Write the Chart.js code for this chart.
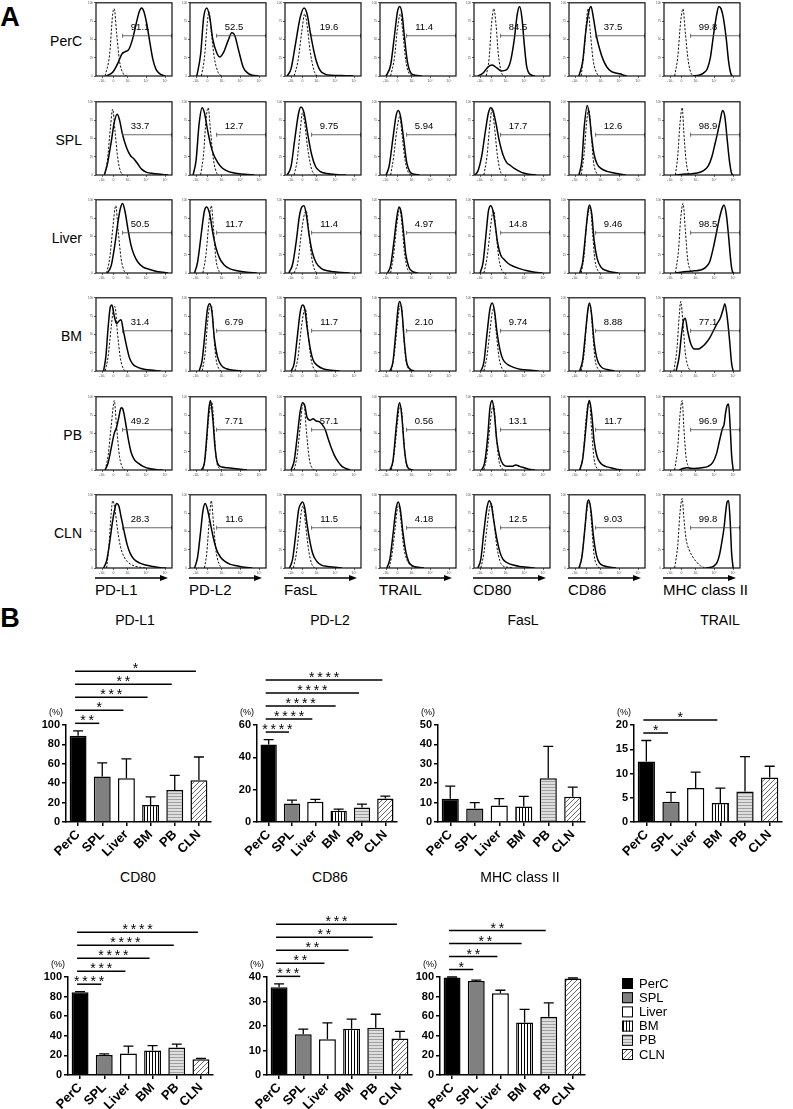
<!DOCTYPE html>
<html>
<head>
<meta charset="utf-8">
<script src="https://cdn.jsdelivr.net/npm/chart.js@4.4.1/dist/chart.umd.min.js"></script>
<style>
body { margin: 0; background: #fff; }
#page { position: relative; width: 793px; height: 1109px; overflow: hidden; background: #fff;
        font-family: Arial, "Liberation Sans", Helvetica, sans-serif; color: #000; }
#page canvas { position: absolute; }
.lbl { position: absolute; white-space: nowrap; line-height: 1; }
</style>
</head>
<body>
<div id="page"></div>
<script>
// ---------- panel A: histogram data (x = channel 0-100, y = % of max) ----------
const tissues = ['PerC', 'SPL', 'Liver', 'BM', 'PB', 'CLN'];
const markers = ['PD-L1', 'PD-L2', 'FasL', 'TRAIL', 'CD80', 'CD86', 'MHC class II'];
const xTickPos = [8, 23, 42, 66, 91];
const xTickText = ['-10³', '0', '10³', '10⁴', '10⁵'];
const gateStart = 35;

const percGate = ['91.1', '52.5', '19.6', '11.4', '84.5', '37.5', '99.8'];
const splGate = ['33.7', '12.7', '9.75', '5.94', '17.7', '12.6', '98.9'];
const liverGate = ['50.5', '11.7', '11.4', '4.97', '14.8', '9.46', '98.5'];
const bmGate = ['31.4', '6.79', '11.7', '2.10', '9.74', '8.88', '77.1'];
const pbGate = ['49.2', '7.71', '57.1', '0.56', '13.1', '11.7', '96.9'];
const clnGate = ['28.3', '11.6', '11.5', '4.18', '12.5', '9.03', '99.8'];

const percSolid = [
  [[14,0],[22,5],[29,18],[34,30],[38,33],[43,36],[48,50],[53,72],[57,88],[60,93],[63,88],[67,70],[71,45],[75,22],[79,9],[84,3],[91,0]],
  [[9,0],[14,30],[18,80],[22,93],[26,80],[30,50],[35,32],[39,26],[44,32],[50,48],[55,59],[59,55],[64,35],[70,12],[76,4],[82,1],[90,0]],
  [[3,0],[8,10],[14,45],[20,80],[25,93],[29,85],[34,55],[40,25],[46,8],[52,3],[60,1],[80,0.5],[90,0]],
  [[8,0],[14,15],[19,55],[23,88],[26,95],[29,85],[32,55],[36,20],[40,5],[46,1],[55,0]],
  [[5,0],[12,4],[18,12],[24,15],[30,11],[36,7],[42,8],[48,20],[53,50],[57,85],[60,95],[63,80],[66,45],[69,15],[73,3],[80,0]],
  [[13,0],[18,20],[22,60],[26,88],[29,95],[32,80],[36,55],[40,38],[45,22],[50,12],[56,6],[62,4],[67,3],[72,1],[76,0]],
  [[38,0],[46,1],[52,4],[57,10],[61,25],[65,55],[69,82],[72,95],[75,92],[78,80],[82,50],[85,20],[88,3],[90,0]]
];
const percDashed = [
  [[12,0],[18,30],[22,85],[24,92],[27,60],[31,20],[36,3],[40,0]],
  [[15,0],[19,25],[23,75],[25,88],[28,60],[32,25],[37,5],[42,0]],
  [[12,0],[17,20],[22,60],[26,85],[29,70],[33,35],[38,8],[42,0]],
  [[14,0],[19,25],[23,65],[27,85],[30,60],[34,20],[38,4],[42,0]],
  [[16,0],[20,25],[23,70],[26,92],[29,70],[32,30],[36,5],[40,0]],
  [[16,0],[20,35],[23,75],[25,92],[28,60],[32,20],[37,3],[40,0]],
  [[14,0],[18,25],[22,75],[25,92],[28,60],[32,20],[36,3],[40,0]]
];
const splSolid = [
  [[11,0],[15,15],[20,45],[24,72],[28,83],[31,75],[35,55],[40,38],[45,27],[50,22],[55,15],[60,8],[66,4],[75,2],[85,1],[95,0]],
  [[4,0],[8,20],[12,70],[16,92],[19,85],[23,62],[27,42],[31,28],[36,18],[42,10],[50,5],[60,2.5],[72,1],[85,0]],
  [[3,0],[8,12],[13,50],[18,85],[21,93],[25,85],[30,55],[35,28],[40,12],[46,5],[55,2],[70,0.5],[80,0]],
  [[8,0],[12,12],[17,50],[21,80],[24,88],[27,80],[31,50],[35,18],[39,5],[45,1],[52,0]],
  [[1,0],[5,5],[10,25],[15,60],[19,85],[22,92],[25,88],[29,70],[33,48],[38,28],[43,17],[48,13],[53,9],[58,6],[64,3],[72,1],[82,0]],
  [[13,0],[17,20],[20,65],[24,95],[27,80],[30,50],[33,28],[37,15],[42,9],[50,5],[58,3],[66,1.5],[75,0]],
  [[15,0],[25,1],[35,1.5],[45,3],[52,6],[58,12],[63,25],[67,42],[71,60],[74,75],[77,88],[80,80],[83,50],[86,20],[89,2],[91,0]]
];
const splDashed = [
  [[11,0],[15,20],[19,65],[22,90],[25,60],[29,20],[33,3],[36,0]],
  [[14,0],[18,30],[21,75],[24,92],[27,60],[31,20],[35,3],[38,0]],
  [[12,0],[16,20],[20,60],[23,85],[26,70],[30,35],[35,8],[39,0]],
  [[14,0],[18,25],[22,60],[26,80],[29,55],[33,20],[37,4],[41,0]],
  [[13,0],[17,25],[21,70],[24,90],[27,65],[31,25],[35,4],[38,0]],
  [[16,0],[20,30],[23,70],[26,90],[29,60],[32,20],[36,3],[39,0]],
  [[15,0],[18,25],[21,70],[24,92],[26,60],[29,20],[32,3],[35,0]]
];
const liverSolid = [
  [[15,0],[20,10],[25,40],[29,70],[32,88],[35,95],[38,85],[42,60],[46,38],[50,25],[55,15],[62,8],[70,5],[80,2],[88,1],[95,0]],
  [[6,0],[10,15],[15,55],[19,85],[22,90],[26,80],[30,55],[34,35],[39,20],[45,11],[52,6],[62,3],[75,1],[88,0]],
  [[5,0],[10,12],[15,45],[19,78],[22,90],[25,92],[28,80],[32,50],[36,28],[41,14],[48,6],[56,3],[70,1],[85,0]],
  [[10,0],[14,10],[18,40],[22,75],[25,90],[28,82],[31,55],[34,25],[38,8],[43,2],[50,0]],
  [[8,0],[12,15],[16,55],[19,85],[22,92],[25,85],[28,65],[31,42],[35,25],[40,18],[45,13],[52,9],[60,6],[70,3],[80,1],[90,0]],
  [[14,0],[18,15],[22,55],[25,85],[27,93],[30,80],[33,45],[37,20],[42,8],[50,3],[58,1],[65,0]],
  [[15,0],[22,1],[30,2],[40,3],[48,4],[54,7],[60,15],[65,35],[69,55],[73,75],[77,90],[79,93],[82,80],[85,50],[88,15],[90,2],[92,0]]
];
const liverDashed = [
  [[14,0],[18,20],[22,60],[26,92],[29,60],[33,20],[37,3],[40,0]],
  [[17,0],[21,25],[25,70],[28,92],[31,60],[34,20],[38,3],[41,0]],
  [[12,0],[17,15],[21,50],[25,78],[28,85],[31,60],[35,22],[39,4],[43,0]],
  [[14,0],[18,25],[22,65],[26,88],[29,65],[32,30],[36,6],[40,0]],
  [[13,0],[17,20],[21,55],[24,80],[26,85],[29,55],[33,18],[37,3],[40,0]],
  [[16,0],[20,25],[23,65],[26,85],[28,90],[31,55],[34,18],[38,3],[41,0]],
  [[15,0],[19,30],[22,75],[25,95],[28,60],[31,20],[35,3],[38,0]]
];
const bmSolid = [
  [[10,0],[13,20],[16,60],[19,88],[21,90],[24,75],[27,65],[30,68],[33,70],[36,55],[40,35],[44,18],[48,10],[55,5],[65,2],[75,1],[85,0]],
  [[12,0],[16,15],[20,55],[23,85],[26,92],[29,80],[32,45],[36,20],[41,8],[48,3],[58,1],[68,0]],
  [[8,0],[12,10],[16,45],[20,80],[23,90],[26,85],[29,60],[33,32],[37,15],[42,8],[50,3],[60,1],[72,0]],
  [[13,0],[17,12],[21,55],[24,88],[26,95],[29,80],[32,40],[35,12],[39,3],[45,0]],
  [[9,0],[13,12],[17,50],[21,85],[24,93],[27,82],[30,55],[34,30],[38,16],[44,9],[52,5],[62,2],[75,1],[85,0]],
  [[14,0],[18,15],[22,55],[25,85],[27,93],[30,75],[33,40],[37,16],[42,6],[50,2],[60,0]],
  [[16,0],[20,20],[23,50],[26,70],[28,72],[31,55],[35,38],[40,30],[45,30],[50,33],[55,38],[60,45],[65,55],[70,65],[74,72],[78,85],[80,92],[83,75],[86,45],[89,10],[91,0]]
];
const bmDashed = [
  [[12,0],[16,20],[20,60],[23,85],[25,88],[28,55],[32,18],[36,3],[39,0]],
  [[16,0],[20,25],[23,65],[26,88],[28,90],[31,55],[34,18],[38,3],[41,0]],
  [[13,0],[17,18],[21,55],[25,82],[27,85],[30,55],[34,18],[38,3],[41,0]],
  [[15,0],[19,25],[23,65],[26,88],[28,90],[31,50],[34,15],[38,2],[41,0]],
  [[13,0],[17,20],[21,55],[24,80],[26,85],[29,55],[33,18],[37,3],[40,0]],
  [[16,0],[20,25],[23,65],[26,88],[28,90],[31,55],[34,18],[38,3],[41,0]],
  [[13,0],[17,30],[20,75],[22,95],[25,65],[28,25],[32,5],[36,0]]
];
const pbSolid = [
  [[12,0],[16,10],[20,30],[24,50],[27,58],[30,72],[33,85],[35,84],[38,70],[42,45],[46,25],[50,15],[56,9],[62,5],[70,2],[80,0.5],[88,0]],
  [[15,0],[19,10],[22,45],[25,85],[27,95],[30,70],[33,30],[36,10],[42,4],[50,3],[58,2],[66,1],[75,0]],
  [[8,0],[12,12],[16,45],[20,80],[23,92],[26,88],[29,72],[33,68],[37,70],[41,67],[45,66],[49,62],[53,55],[57,42],[61,30],[65,20],[70,11],[75,5],[80,2],[86,0]],
  [[13,0],[17,12],[21,55],[24,85],[26,92],[29,70],[32,30],[35,8],[39,1],[44,0]],
  [[10,0],[14,10],[18,45],[21,85],[24,95],[27,75],[30,40],[34,18],[38,8],[44,5],[50,5],[55,7],[60,5],[66,3],[72,1],[80,0]],
  [[14,0],[18,15],[22,55],[25,88],[27,95],[30,75],[33,40],[37,18],[42,9],[48,5],[55,3],[62,1],[70,0]],
  [[20,0],[25,2],[30,3],[40,2],[50,3],[58,5],[64,10],[69,22],[73,40],[77,57],[79,62],[81,78],[83,88],[85,90],[87,60],[89,20],[91,0]]
];
const pbDashed = [
  [[12,0],[16,20],[20,60],[23,90],[24,95],[27,60],[31,18],[35,3],[38,0]],
  [[17,0],[21,25],[24,65],[27,88],[29,92],[32,50],[35,12],[39,2],[42,0]],
  [[12,0],[16,20],[20,60],[23,88],[25,90],[28,55],[32,15],[36,2],[39,0]],
  [[15,0],[19,25],[23,65],[26,88],[28,85],[31,45],[34,12],[38,1],[41,0]],
  [[13,0],[17,20],[21,60],[24,85],[26,88],[29,50],[33,12],[37,2],[40,0]],
  [[15,0],[19,25],[22,65],[25,90],[27,92],[30,50],[33,15],[37,2],[40,0]],
  [[14,0],[18,30],[21,75],[24,95],[26,60],[29,18],[33,3],[36,0]]
];
const clnSolid = [
  [[10,0],[14,10],[18,35],[22,65],[25,82],[27,88],[30,85],[33,70],[37,50],[41,32],[45,20],[50,12],[57,7],[65,4],[75,2],[85,0.5],[92,0]],
  [[6,0],[10,15],[14,50],[17,78],[20,88],[23,80],[27,60],[31,40],[35,25],[40,15],[46,9],[53,5],[62,3],[72,1],[82,0]],
  [[6,0],[10,12],[14,45],[18,80],[21,88],[23,90],[26,82],[29,60],[33,35],[37,18],[42,9],[48,4],[56,2],[66,1],[75,0]],
  [[9,0],[13,12],[17,45],[21,80],[24,90],[27,78],[30,50],[34,22],[38,8],[43,3],[50,1],[58,0]],
  [[5,0],[9,12],[13,50],[17,82],[20,92],[23,85],[26,65],[30,40],[34,22],[38,12],[44,7],[52,4],[60,2],[70,1],[80,0]],
  [[13,0],[17,15],[21,55],[24,88],[26,93],[29,78],[32,45],[36,18],[40,7],[46,3],[54,1],[62,0]],
  [[55,0],[62,1],[66,3],[70,8],[73,18],[76,35],[79,55],[81,75],[83,90],[85,92],[87,65],[89,20],[91,0]]
];
const clnDashed = [
  [[14,0],[17,30],[20,75],[22,92],[25,80],[28,55],[32,30],[37,15],[42,8],[50,3],[58,1],[65,0]],
  [[19,0],[22,20],[25,60],[28,92],[31,60],[34,25],[38,6],[42,0]],
  [[11,0],[15,20],[19,55],[22,80],[24,85],[27,60],[31,25],[35,6],[39,0]],
  [[12,0],[16,20],[20,55],[23,82],[25,85],[28,60],[31,30],[35,12],[40,4],[46,1],[52,0]],
  [[9,0],[13,20],[17,55],[21,85],[23,88],[26,65],[30,30],[34,10],[38,3],[45,1],[52,0]],
  [[14,0],[18,25],[22,65],[25,88],[27,90],[30,55],[33,18],[37,3],[41,0]],
  [[14,0],[18,30],[21,75],[24,95],[26,70],[29,40],[33,25],[38,15],[43,8],[48,3],[54,0]]
];

// ---------- panel B: bar data (mean %, top of error bar, significance [target, stars]) ----------
const pdl1Mean = [89, 47, 45, 17.5, 33, 43];
const pdl1Upper = [94, 61, 65, 26, 48, 67];
const pdl1Sig = [[1, 2], [2, 1], [3, 3], [4, 2], [5, 1]];
const pdl2Mean = [48, 11.5, 12.5, 7, 9, 14.5];
const pdl2Upper = [51, 13.5, 14, 8, 11, 16];
const pdl2Sig = [[1, 4], [2, 4], [3, 4], [4, 4], [5, 4]];
const faslMean = [12, 7, 8.5, 8, 22.5, 13];
const faslUpper = [18.5, 10, 12, 13.2, 39, 18];
const faslSig = [];
const trailMean = [12.5, 4.2, 7, 3.9, 6.3, 9.2];
const trailUpper = [16.8, 6.1, 10.3, 7, 13.5, 11.5];
const trailSig = [[1, 1], [3, 1]];
const cd80Mean = [84.5, 20.5, 22, 25, 28, 16];
const cd80Upper = [85, 21.5, 29.5, 30, 31.5, 17];
const cd80Sig = [[1, 4], [2, 3], [3, 4], [4, 4], [5, 4]];
const cd86Mean = [35.8, 16.6, 14.6, 18.9, 19.3, 14.9];
const cd86Upper = [37.2, 18.7, 21.3, 22.8, 24.8, 17.8];
const cd86Sig = [[1, 3], [2, 2], [3, 2], [4, 2], [5, 3]];
const mhcMean = [99.5, 96, 83.5, 53.5, 59.5, 98.5];
const mhcUpper = [100, 96.8, 86.5, 67, 73.5, 99];
const mhcSig = [[1, 1], [2, 2], [3, 2], [4, 2]];

// ---------- setup ----------
const FONT = 'Arial, "Liberation Sans", Helvetica, sans-serif';
Chart.defaults.font.family = FONT;
Chart.defaults.color = '#000';
Chart.defaults.animation = false;

const page = document.getElementById('page');

function addText(text, x, y, size, align, weight) {
  const d = document.createElement('div');
  d.className = 'lbl';
  d.textContent = text;
  d.style.left = x + 'px';
  d.style.top = y + 'px';
  d.style.fontSize = size + 'px';
  if (weight) d.style.fontWeight = weight;
  const tx = align === 'right' ? '-100%' : align === 'left' ? '0' : '-50%';
  d.style.transform = 'translate(' + tx + ',-50%)';
  page.appendChild(d);
}

function makeCanvas(left, top, w, h) {
  const c = document.createElement('canvas');
  c.width = w; c.height = h;
  c.style.left = left + 'px';
  c.style.top = top + 'px';
  page.appendChild(c);
  return c;
}

// ---------- panel A ----------
const colLeft = [96, 190, 285, 380, 474, 569, 664];
const rowTop = [1, 100, 198, 296, 395, 493];
const boxW = 76, boxH = 75;
const solidRows = [percSolid, splSolid, liverSolid, bmSolid, pbSolid, clnSolid];
const dashedRows = [percDashed, splDashed, liverDashed, bmDashed, pbDashed, clnDashed];
const gateRows = [percGate, splGate, liverGate, bmGate, pbGate, clnGate];

const framePlugin = {
  id: 'frame',
  afterDraw(chart) {
    const a = chart.chartArea, ctx = chart.ctx;
    ctx.save();
    ctx.strokeStyle = '#111';
    ctx.lineWidth = 1.2;
    ctx.strokeRect(a.left, a.top, a.right - a.left, a.bottom - a.top);
    ctx.restore();
  }
};

function gatePlugin(label) {
  return {
    id: 'gate',
    afterDatasetsDraw(chart) {
      const x = chart.scales.x, y = chart.scales.y, ctx = chart.ctx;
      const x0 = x.getPixelForValue(gateStart), x1 = x.getPixelForValue(100);
      const gy = y.getPixelForValue(55);
      ctx.save();
      ctx.strokeStyle = '#444';
      ctx.lineWidth = 0.8;
      ctx.beginPath();
      ctx.moveTo(x0, gy); ctx.lineTo(x1, gy);
      ctx.moveTo(x0, gy - 2); ctx.lineTo(x0, gy + 2);
      ctx.moveTo(x1 - 0.5, gy - 2); ctx.lineTo(x1 - 0.5, gy + 2);
      ctx.stroke();
      ctx.fillStyle = '#000';
      ctx.font = '9.5px ' + FONT;
      ctx.textAlign = 'center';
      ctx.textBaseline = 'middle';
      ctx.fillText(label, x.getPixelForValue(58), y.getPixelForValue(67));
      ctx.restore();
    }
  };
}

function histChart(left, top, solid, dashed, label) {
  const yW = 9, xH = 8;
  const cv = makeCanvas(left - yW, top - 1, yW + boxW + 2, 1 + boxH + xH);
  const pts = arr => arr.map(p => ({ x: p[0], y: p[1] }));
  new Chart(cv, {
    type: 'scatter',
    data: {
      datasets: [
        { data: pts(dashed), showLine: true, borderColor: '#111', borderWidth: 1, borderDash: [2.2, 1.6],
          pointRadius: 0, cubicInterpolationMode: 'monotone' },
        { data: pts(solid), showLine: true, borderColor: '#000', borderWidth: 1.5,
          pointRadius: 0, cubicInterpolationMode: 'monotone' }
      ]
    },
    options: {
      responsive: false,
      layout: { padding: { top: 1, right: 2, left: 0, bottom: 0 } },
      plugins: { legend: { display: false }, tooltip: { enabled: false } },
      scales: {
        x: {
          type: 'linear', min: 0, max: 100,
          afterFit(s) { s.height = xH; },
          afterBuildTicks(s) { s.ticks = xTickPos.map(v => ({ value: v })); },
          ticks: { autoSkip: false, maxRotation: 0, padding: 1, color: '#555', font: { size: 3.5 },
                   callback: (v, i) => xTickText[i] },
          grid: { drawOnChartArea: false, tickLength: 2, color: '#000', lineWidth: 0.6 },
          border: { display: false }
        },
        y: {
          min: 0, max: 100,
          afterFit(s) { s.width = yW; },
          ticks: { stepSize: 25, padding: 1, color: '#555', font: { size: 3 } },
          grid: { drawOnChartArea: false, tickLength: 2, color: '#000', lineWidth: 0.6 },
          border: { display: false }
        }
      }
    },
    plugins: [framePlugin, gatePlugin(label)]
  });
}

addText('A', 10, 17, 27, 'center', 'bold');
tissues.forEach((t, r) => {
  addText(t, 82, rowTop[r] + 40, 14, 'right');
  colLeft.forEach((cx, c) => {
    histChart(cx, rowTop[r], solidRows[r][c], dashedRows[r][c], gateRows[r][c]);
  });
});

// arrows and marker names under the last row
const svgNS = 'http://www.w3.org/2000/svg';
const svg = document.createElementNS(svgNS, 'svg');
svg.setAttribute('width', 793); svg.setAttribute('height', 600);
svg.style.position = 'absolute'; svg.style.left = '0'; svg.style.top = '0';
colLeft.forEach((cx, c) => {
  const ln = document.createElementNS(svgNS, 'line');
  ln.setAttribute('x1', cx - 1); ln.setAttribute('x2', cx + 66);
  ln.setAttribute('y1', 578); ln.setAttribute('y2', 578);
  ln.setAttribute('stroke', '#000'); ln.setAttribute('stroke-width', 1.3);
  svg.appendChild(ln);
  const tip = document.createElementNS(svgNS, 'polygon');
  tip.setAttribute('points', (cx + 72) + ',578 ' + (cx + 64) + ',575 ' + (cx + 64) + ',581');
  tip.setAttribute('fill', '#000');
  svg.appendChild(tip);
  addText(markers[c], cx - 1, 589, 15, 'left');
});
page.appendChild(svg);

// ---------- panel B ----------
function makePattern(kind) {
  const c = document.createElement('canvas');
  const g = c.getContext('2d');
  if (kind === 'vert') {
    c.width = 3; c.height = 3;
    g.fillStyle = '#fff'; g.fillRect(0, 0, 3, 3);
    g.fillStyle = '#000'; g.fillRect(0, 0, 1, 3);
  } else if (kind === 'horiz') {
    c.width = 3; c.height = 3;
    g.fillStyle = '#dedede'; g.fillRect(0, 0, 3, 3);
    g.fillStyle = '#a0a0a0'; g.fillRect(0, 0, 3, 1);
  } else {
    c.width = 5; c.height = 5;
    g.fillStyle = '#fff'; g.fillRect(0, 0, 5, 5);
    g.strokeStyle = '#6a6a6a'; g.lineWidth = 1;
    g.beginPath();
    g.moveTo(0, 5); g.lineTo(5, 0);
    g.moveTo(-1, 1); g.lineTo(1, -1);
    g.moveTo(4, 6); g.lineTo(6, 4);
    g.stroke();
  }
  return g.createPattern(c, 'repeat');
}
const fills = ['#000', '#808080', '#fff', makePattern('vert'), makePattern('horiz'), makePattern('diag')];

function errPlugin(mean, upper) {
  return {
    id: 'err',
    afterDatasetsDraw(chart) {
      const x = chart.scales.x, y = chart.scales.y, ctx = chart.ctx;
      ctx.save();
      ctx.strokeStyle = '#000';
      ctx.lineWidth = 1.3;
      upper.forEach((u, i) => {
        const px = x.getPixelForValue(i);
        const yt = y.getPixelForValue(u), yb = y.getPixelForValue(mean[i]);
        ctx.beginPath();
        ctx.moveTo(px, yb); ctx.lineTo(px, yt);
        ctx.moveTo(px - 5, yt); ctx.lineTo(px + 5, yt);
        ctx.stroke();
      });
      ctx.restore();
    }
  };
}

function sigPlugin(upper, sig) {
  return {
    id: 'sig',
    afterDraw(chart) {
      const x = chart.scales.x, y = chart.scales.y, ctx = chart.ctx;
      const base = y.getPixelForValue(upper[0]) - 7.5;
      ctx.save();
      ctx.strokeStyle = '#000';
      ctx.fillStyle = '#000';
      ctx.lineWidth = 1.5;
      ctx.font = '14px ' + FONT;
      ctx.textAlign = 'center';
      ctx.textBaseline = 'alphabetic';
      sig.forEach((s, k) => {
        const ly = base - 13 * k;
        const x0 = x.getPixelForValue(0) - 3, x1 = x.getPixelForValue(s[0]) - 3;
        ctx.beginPath();
        ctx.moveTo(x0, ly); ctx.lineTo(x1, ly);
        ctx.stroke();
        ctx.fillText(Array(s[1]).fill('*').join('\u2009'), (x0 + x1) / 2, ly + 2);
      });
      const a = chart.chartArea;
      ctx.font = '9px ' + FONT;
      ctx.textBaseline = 'middle';
      ctx.fillText('(%)', a.left - 10, a.top - 12);
      ctx.restore();
    }
  };
}

const legendPlugin = {
  id: 'sideLegend',
  afterDraw(chart) {
    const a = chart.chartArea, ctx = chart.ctx;
    const x0 = a.right + 37;
    ctx.save();
    ctx.font = '13px ' + FONT;
    ctx.textAlign = 'left';
    ctx.textBaseline = 'middle';
    tissues.forEach((t, i) => {
      const yy = a.top + 1 + i * 14.2;
      ctx.fillStyle = fills[i];
      ctx.fillRect(x0, yy, 11, 11);
      ctx.strokeStyle = '#000';
      ctx.lineWidth = 1;
      ctx.strokeRect(x0 + 0.5, yy + 0.5, 10, 10);
      ctx.fillStyle = '#000';
      ctx.fillText(t, x0 + 17, yy + 6);
    });
    ctx.restore();
  }
};

function barChart(cfg) {
  const padTop = 70, yW = 30, xH = 44, padR = cfg.legend ? 110 : 6;
  const cv = makeCanvas(cfg.left - yW, cfg.top - padTop, yW + cfg.w + padR, padTop + cfg.h + xH);
  const plugins = [errPlugin(cfg.mean, cfg.upper), sigPlugin(cfg.upper, cfg.sig)];
  if (cfg.legend) plugins.push(legendPlugin);
  new Chart(cv, {
    type: 'bar',
    data: {
      labels: tissues,
      datasets: [{ data: cfg.mean, backgroundColor: fills, borderColor: '#000', borderWidth: 1.5,
                   barPercentage: 0.7, categoryPercentage: 1 }]
    },
    options: {
      responsive: false,
      layout: { padding: { top: padTop, right: padR, left: 0, bottom: 0 } },
      plugins: { legend: { display: false }, tooltip: { enabled: false } },
      scales: {
        x: {
          offset: true,
          afterFit(s) { s.height = xH; },
          ticks: { minRotation: 45, maxRotation: 45, autoSkip: false, padding: 1, color: '#000',
                   font: { size: 13, weight: 'bold' } },
          grid: { drawOnChartArea: false, offset: false, tickLength: 4, color: '#000', lineWidth: 1.5 },
          border: { color: '#000', width: 1.5 }
        },
        y: {
          min: 0, max: cfg.max,
          afterFit(s) { s.width = yW; },
          ticks: { stepSize: cfg.step, padding: 2, color: '#000', font: { size: 11, weight: 'bold' } },
          grid: { drawOnChartArea: false, tickLength: 4, color: '#000', lineWidth: 1.5 },
          border: { color: '#000', width: 1.5 }
        }
      }
    },
    plugins: plugins
  });
  addText(cfg.title, cfg.titleX, cfg.titleY, 14, 'center');
}

addText('B', 10, 618, 27, 'center', 'bold');
barChart({ title: 'PD-L1', titleX: 135, titleY: 620, left: 66, top: 725, w: 145, h: 97, max: 100, step: 20, mean: pdl1Mean, upper: pdl1Upper, sig: pdl1Sig });
barChart({ title: 'PD-L2', titleX: 330, titleY: 620, left: 257, top: 725, w: 140, h: 97, max: 60, step: 10, mean: pdl2Mean, upper: pdl2Upper, sig: pdl2Sig });
barChart({ title: 'FasL', titleX: 523, titleY: 620, left: 438, top: 725, w: 147, h: 97, max: 50, step: 10, mean: faslMean, upper: faslUpper, sig: faslSig });
barChart({ title: 'TRAIL', titleX: 720, titleY: 620, left: 634, top: 725, w: 148, h: 97, max: 20, step: 5, mean: trailMean, upper: trailUpper, sig: trailSig });
barChart({ title: 'CD80', titleX: 138, titleY: 877, left: 68, top: 977, w: 145, h: 98, max: 100, step: 20, mean: cd80Mean, upper: cd80Upper, sig: cd80Sig });
barChart({ title: 'CD86', titleX: 330, titleY: 877, left: 267, top: 977, w: 145, h: 98, max: 40, step: 10, mean: cd86Mean, upper: cd86Upper, sig: cd86Sig });
barChart({ title: 'MHC class II', titleX: 520, titleY: 877, left: 440, top: 977, w: 145, h: 98, max: 100, step: 20, mean: mhcMean, upper: mhcUpper, sig: mhcSig, legend: true });
</script>
</body>
</html>
